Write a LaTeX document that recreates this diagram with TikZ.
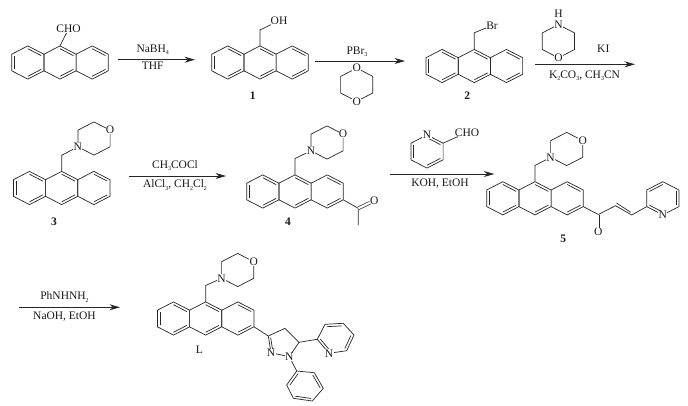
\documentclass[tikz,border=0pt]{standalone}
\usepackage{fontspec}
\setmainfont{Liberation Serif}
\usetikzlibrary{arrows.meta,calc}

\def\hx{16.1}
\def\ay{16.6}

\tikzset{
  bond/.style={line width=.7pt, draw=black!85},
  dblbond/.style={line width=.65pt, draw=black!85, double, double distance=2.2pt},
  rxn/.style={line width=.75pt, draw=black!85, -{Stealth[length=10.5pt,width=6pt]}},
  atom/.style={inner sep=.4pt, fill=white, font=\fontsize{11.5}{12}\selectfont, text=black!90},
  lab/.style={inner sep=0pt, font=\fontsize{11.5}{12}\selectfont, text=black!90},
  num/.style={inner sep=0pt, font=\fontsize{11.5}{12}\selectfont\bfseries, text=black!90}
}

\newcommand{\sbs}[1]{\raisebox{-2.2pt}{\fontsize{6}{6}\selectfont #1}}

% six-ring: #1 name, vertices clockwise from the top
\newcommand{\hexring}[3]{
  \coordinate (#10) at (#2, #3);
  \coordinate (#11) at (#2, #3-\ay);
  \coordinate (#12) at (#2+\hx, #3-\ay/2);
  \coordinate (#13) at (#2+\hx, #3+\ay/2);
  \coordinate (#14) at (#2, #3+\ay);
  \coordinate (#15) at (#2-\hx, #3+\ay/2);
  \coordinate (#16) at (#2-\hx, #3-\ay/2);
  \draw[bond] (#11) -- (#12) -- (#13) -- (#14) -- (#15) -- (#16) -- cycle;
}
% inner line of a double bond: #1-#2, towards centre #3
\newcommand{\dbl}[3]{
  \draw[bond] ($(#1)!.17!(#3)$) -- ($(#2)!.17!(#3)$);
}
% anthracene: #1 name, centre of the middle ring
\newcommand{\anth}[3]{
  \hexring{#1L}{#2-2*\hx}{#3}
  \hexring{#1C}{#2}{#3}
  \hexring{#1R}{#2+2*\hx}{#3}
  \dbl{#1L5}{#1L6}{#1L0}
  \dbl{#1L1}{#1L2}{#1L0}
  \dbl{#1L3}{#1L4}{#1L0}
  \dbl{#1C1}{#1C2}{#1C0}
  \dbl{#1C3}{#1C4}{#1C0}
  \dbl{#1R1}{#1R2}{#1R0}
  \dbl{#1R3}{#1R4}{#1R0}
}
% morpholine: #1 name, centre of the ring, N lower left, O upper right
\newcommand{\morph}[3]{
  \hexring{#1}{#2}{#3}
  \node (#1N) [atom] at (#15) {N};
  \node (#1O) [atom] at (#12) {O};
}

\begin{document}
\begin{tikzpicture}[x=1pt, y=-1pt]
  \useasboundingbox (0,0) rectangle (688,405);

  % anthracene-9-carbaldehyde
  \anth{A}{60}{62.5}
  \node (cho) [lab] at (68.5, 29) {CHO};
  \draw[bond] (AC1) -- (cho);

  % reaction arrows
  \foreach \nm/\xa/\xb/\yy in {s1/117.7/195/59.7, s2/315/405/61, s3/535/635/64.3,
                               s4/129.3/226/176, s5/390/494.3/174, s6/19.3/120/307.3} {
    \coordinate (\nm a) at (\xa, \yy);
    \coordinate (\nm b) at (\xb, \yy);
    \draw[rxn] (\nm a) -- (\nm b);
  }
  \node (nabh) [lab] at (152.7, 49.5) {NaBH\sbs{4}};
  \node (thf) [lab] at (152.7, 66) {THF};

  % 1
  \anth{B}{260}{62.5}
  \coordinate (Bch) at (260, 30);
  \node (oh) [lab] at (279, 20.7) {OH};
  \draw[bond] (BC1) -- (Bch) -- (oh);
  \node (n1) [num] at (252.7, 96) {1};

  \node (pbr) [lab] at (357, 51.5) {PBr\sbs{3}};
  \hexring{D}{356.7}{84.7}
  \node (dO1) [atom] at (D1) {O};
  \node (dO2) [atom] at (D4) {O};

  % 2
  \anth{E}{474.3}{66}
  \coordinate (Ech) at (474.3, 32.7);
  \node (br) [lab] at (492, 25.7) {Br};
  \draw[bond] (EC1) -- (Ech) -- (br);
  \node (n2) [num] at (467.3, 96) {2};

  \hexring{M}{558.4}{41.2}
  \node (mN) [atom] at (M1) {N};
  \node (mH) [lab] at (558.4, 14) {H};
  \node (mO) [atom] at (M4) {O};
  \node (ki) [lab] at (603.3, 48.3) {KI};
  \node (kco) [lab] at (584.5, 75.5) {K\sbs{2}CO\sbs{3}, CH\sbs{3}CN};

  % 3
  \morph{F}{94}{138.5}
  \anth{G}{61.7}{188}
  \coordinate (Gch) at (61.7, 155.3);
  \draw[bond] (GC1) -- (Gch) -- (FN);
  \node (n3) [num] at (54, 222) {3};

  \node (accl) [lab] at (175, 165.5) {CH\sbs{3}COCl};
  \node (alcl) [lab] at (175, 185) {AlCl\sbs{3}, CH\sbs{2}Cl\sbs{2}};

  % 4
  \morph{H}{327}{142.5}
  \anth{J}{295}{191.5}
  \coordinate (Jch) at (295, 158.5);
  \draw[bond] (JC1) -- (Jch) -- (HN);
  \coordinate (Jco) at (358.3, 208.3);
  \coordinate (Jme) at (358.3, 225);
  \node (JO) [lab] at (374.3, 200.7) {O};
  \draw[bond] (JR3) -- (Jco) -- (Jme);
  \draw[dblbond] (Jco) -- (JO);
  \node (n4) [num] at (288, 222) {4};

  \hexring{P}{427}{151.5}
  \dbl{P5}{P6}{P0}
  \dbl{P3}{P4}{P0}
  \dbl{P1}{P2}{P0}
  \node (pN) [atom] at (P1) {N};
  \node (pcho) [lab] at (467, 132.5) {CHO};
  \draw[bond] (P2) -- (pcho);
  \node (koh) [lab] at (440, 183.5) {KOH, EtOH};

  % 5
  \morph{Q}{566.7}{149}
  \anth{R}{535}{198.3}
  \coordinate (Rch) at (535, 165.5);
  \draw[bond] (RC1) -- (Rch) -- (QN);
  \coordinate (Rco) at (598.3, 214.5);
  \coordinate (Rc1) at (615.5, 205.7);
  \coordinate (Rc2) at (631.7, 215);
  \node (RO) [lab] at (598.3, 232) {O};
  \draw[bond] (RR3) -- (Rco);
  \draw[dblbond] (Rco) -- (RO);
  \draw[bond] (Rco) -- (Rc1) -- (Rc2);
  \draw[bond] ($(Rc1)+(1,-2.7)$) -- ($(Rc2)+(-1,-2.7)$);
  \hexring{S}{662.8}{198.3}
  \draw[bond] (Rc2) -- (S5);
  \dbl{S6}{S1}{S0}
  \dbl{S2}{S3}{S0}
  \dbl{S4}{S5}{S0}
  \node (sN) [atom] at (S4) {N};
  \node (n5) [num] at (563.3, 239) {5};

  \node (phn) [lab] at (64.5, 297) {PhNHNH\sbs{2}};
  \node (naoh) [lab] at (64.5, 316.5) {NaOH, EtOH};

  % L
  \morph{T}{237.7}{270}
  \anth{U}{205.7}{318.5}
  \coordinate (Uch) at (205.7, 285.5);
  \draw[bond] (UC1) -- (Uch) -- (TN);
  \node (nL) [lab] at (199.3, 349.5) {L};

  \coordinate (Zc3) at (268.3, 336);
  \coordinate (Zc4) at (285, 328.3);
  \coordinate (Zc5) at (299, 342.3);
  \coordinate (Zn1) at (289.3, 356.7);
  \coordinate (Zn2) at (271, 352.7);
  \coordinate (Zm) at (282, 345);
  \draw[bond] (UR3) -- (Zc3) -- (Zc4) -- (Zc5) -- (Zn1) -- (Zn2) -- (Zc3);
  \dbl{Zc3}{Zn2}{Zm}
  \coordinate (W1) at (317.3, 339.3);
  \coordinate (W2) at (325, 324.3);
  \coordinate (W3) at (343.3, 323.3);
  \coordinate (W4) at (354, 335);
  \coordinate (W5) at (346.7, 350.7);
  \coordinate (W6) at (329, 353.3);
  \coordinate (W0) at (335.5, 338.3);
  \draw[bond] (Zc5) -- (W1) -- (W2) -- (W3) -- (W4) -- (W5) -- (W6) -- (W1);
  \dbl{W1}{W6}{W0}
  \dbl{W2}{W3}{W0}
  \dbl{W4}{W5}{W0}
  \coordinate (V1) at (296.7, 371);
  \coordinate (V2) at (314.3, 372.7);
  \coordinate (V3) at (323.3, 388.3);
  \coordinate (V4) at (312.3, 401);
  \coordinate (V5) at (293.3, 398.3);
  \coordinate (V6) at (286.7, 385);
  \coordinate (V0) at (305, 386);
  \draw[bond] (Zn1) -- (V1) -- (V2) -- (V3) -- (V4) -- (V5) -- (V6) -- (V1);
  \dbl{V1}{V6}{V0}
  \dbl{V2}{V3}{V0}
  \dbl{V4}{V5}{V0}
  \node (zN1) [atom] at (Zn1) {N};
  \node (zN2) [atom] at (Zn2) {N};
  \node (wN) [atom] at (W6) {N};
\end{tikzpicture}
\end{document}
